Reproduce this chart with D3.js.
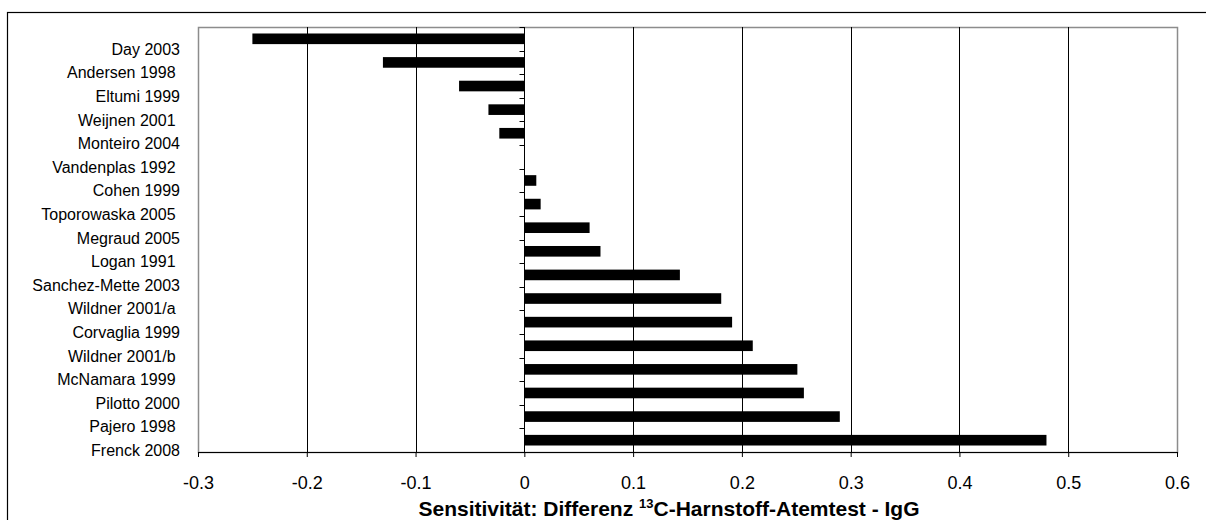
<!DOCTYPE html>
<html>
<head>
<meta charset="utf-8">
<script src="https://d3js.org/d3.v7.min.js"></script>
<style>
    body { margin: 0; background: #fff; }
    text { font-family: "Liberation Sans", Arial, sans-serif; fill: #000; }
</style>
</head>
<body>
<div id="chart"></div>
<script>
    const width = 1206
    const height = 520

    // data
    const studies = ["Day 2003", "Andersen 1998 ", "Eltumi 1999", "Weijnen 2001 ", "Monteiro 2004",
        "Vandenplas 1992 ", "Cohen 1999", "Toporowaska 2005 ", "Megraud 2005", "Logan 1991 ",
        "Sanchez-Mette 2003", "Wildner 2001/a ", "Corvaglia 1999", "Wildner 2001/b ", "McNamara 1999 ",
        "Pilotto 2000", "Pajero 1998 ", "Frenck 2008"]
    const diffs = [-0.25, -0.13, -0.06, -0.033, -0.023, 0, 0.011, 0.015, 0.06, 0.07,
        0.143, 0.181, 0.191, 0.21, 0.251, 0.257, 0.29, 0.48]
    const xTicks = [-0.3, -0.2, -0.1, 0, 0.1, 0.2, 0.3, 0.4, 0.5, 0.6]

    const plot = { left: 198, right: 1177, top: 27, bottom: 452 }

    const svg = d3.select("#chart").append("svg")
        .attr("width", width).attr("height", height)

    // outer frame (runs off the page at right/bottom)
    svg.append("rect")
        .attr("x", 7.5).attr("y", 12.5)
        .attr("width", width).attr("height", height)
        .attr("fill", "none").attr("stroke", "#000").attr("stroke-width", 1.2)

    const xScale = d3.scaleLinear()
        .domain([-0.3, 0.6])
        .range([plot.left, plot.right])

    const yScale = d3.scaleBand()
        .domain(studies)
        .range([plot.top, plot.bottom])
        .paddingInner(0.55)
        .paddingOuter(0.275)

    // plot border
    svg.append("rect")
        .attr("x", plot.left + 0.5).attr("y", plot.top + 0.5)
        .attr("width", plot.right - plot.left).attr("height", plot.bottom - plot.top)
        .attr("fill", "none").attr("stroke", "#8c8c8c").attr("stroke-width", 1.5)

    // vertical gridlines
    svg.append("g")
        .selectAll("line")
        .data(xTicks.slice(1, -1))
        .enter()
        .append("line")
        .attr("x1", d => Math.round(xScale(d)) + 0.5)
        .attr("x2", d => Math.round(xScale(d)) + 0.5)
        .attr("y1", plot.top)
        .attr("y2", plot.bottom)
        .attr("stroke", "#000")
        .attr("stroke-width", 1)

    // bars
    svg.append("g")
        .selectAll("rect")
        .data(diffs)
        .enter()
        .append("rect")
        .attr("x", d => xScale(Math.min(0, d)))
        .attr("y", (d, i) => yScale(studies[i]))
        .attr("width", d => Math.abs(xScale(d) - xScale(0)))
        .attr("height", yScale.bandwidth())
        .attr("fill", "#000")

    // category axis on the zero line
    const rowH = (plot.bottom - plot.top) / studies.length
    const catTicks = d3.range(studies.length + 1).map(i => plot.top + i * rowH)
    const zx = Math.round(xScale(0)) + 0.5
    const yAxisG = svg.append("g")
    yAxisG.append("line")
        .attr("x1", zx).attr("x2", zx)
        .attr("y1", plot.top).attr("y2", plot.bottom)
        .attr("stroke", "#000")
    yAxisG.selectAll("line.tick")
        .data(catTicks)
        .enter()
        .append("line")
        .attr("class", "tick")
        .attr("x1", zx - 5).attr("x2", zx)
        .attr("y1", d => Math.round(d) + 0.5).attr("y2", d => Math.round(d) + 0.5)
        .attr("stroke", "#000")

    // category labels at the left (sit a bit lower than their bars, like the original)
    svg.append("g")
        .selectAll("text")
        .data(studies)
        .enter()
        .append("text")
        .attr("x", 180)
        .attr("y", (d, i) => catTicks[i + 1] - 1.5)
        .attr("dy", "0.35em")
        .attr("text-anchor", "end")
        .attr("xml:space", "preserve")
        .style("white-space", "pre")
        .style("font-size", "16px")
        .text(d => d)

    // x axis
    const xAxis = d3.axisBottom(xScale)
        .tickValues(xTicks)
        .tickSize(5)
        .tickPadding(32)
        .tickFormat(d => d === 0 ? "0" : String(d))
    const xAxisG = svg.append("g")
        .attr("transform", "translate(0," + plot.bottom + ")")
        .call(xAxis)
    xAxisG.select(".domain").attr("stroke", "#000")
    xAxisG.selectAll("text").style("font-size", "18px").attr("font-family", null)
        .attr("dy", "0")

    // axis title
    const title = svg.append("text")
        .attr("x", 669)
        .attr("y", 516)
        .attr("text-anchor", "middle")
        .style("font-size", "21px")
        .style("font-weight", "bold")
    title.append("tspan").text("Sensitivität: Differenz ")
    title.append("tspan").text("13").attr("dy", -8).style("font-size", "13px")
    title.append("tspan").text("C-Harnstoff-Atemtest - IgG").attr("dy", 8)
</script>
</body>
</html>
